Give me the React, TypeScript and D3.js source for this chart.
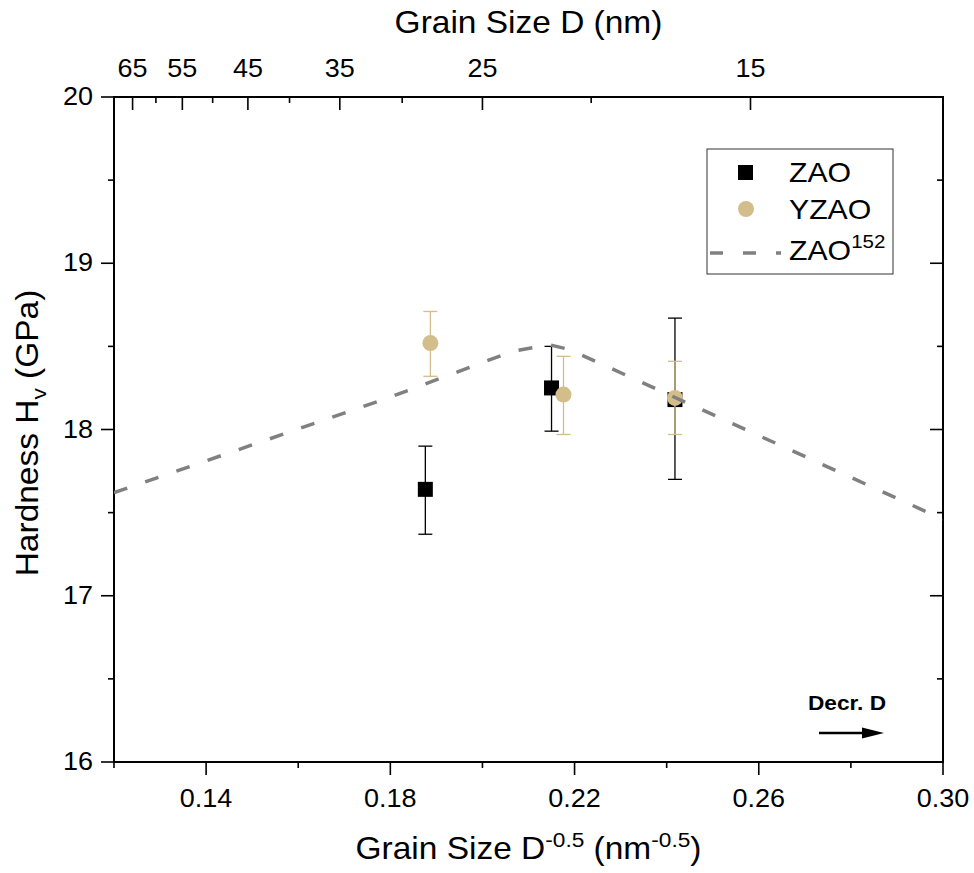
import React from "react";
import * as d3 from "d3";

const W = 974;
const H = 873;
const margin = { left: 114, right: 31, top: 97, bottom: 111 };

// ZAO (black squares) : x = D^-0.5, y = hardness, err = [low, high]
const zaoX = [0.1876, 0.215, 0.2418];
const zaoY = [17.64, 18.25, 18.18];
const zaoLow = [17.37, 17.99, 17.7];
const zaoHigh = [17.9, 18.5, 18.67];

// YZAO (tan circles)
const yzaoX = [0.1887, 0.2176, 0.2418];
const yzaoY = [18.52, 18.21, 18.19];
const yzaoLow = [18.32, 17.97, 17.97];
const yzaoHigh = [18.71, 18.44, 18.41];

// ZAO^152 reference curve
const refX = [0.12, 0.1795, 0.2065, 0.2145, 0.219, 0.3];
const refY = [17.62, 18.19, 18.47, 18.51, 18.48, 17.46];

const bottomMajor = [0.14, 0.18, 0.22, 0.26, 0.3];
const bottomMinor = [0.12, 0.16, 0.2, 0.24, 0.28];
const leftMajor = [16, 17, 18, 19, 20];
const leftMinor = [16.5, 17.5, 18.5, 19.5];
const topMajor = [65, 55, 45, 35, 25, 15];
const topMinor = [60, 50, 40, 30, 20];

const tan = "#D3BD8A";
const font = "'Liberation Sans', Arial, sans-serif";
const SX = 1.08; // the original text is a touch wider than Arial

// text slightly stretched horizontally, anchored at (x, y)
function T(props: {
  x: number;
  y: number;
  size: number;
  anchor?: string;
  rotate?: number;
  bold?: boolean;
  children: React.ReactNode;
}) {
  const { x, y, size, anchor, rotate, bold, children } = props;
  return (
    <text
      transform={`translate(${x},${y})${rotate ? ` rotate(${rotate})` : ""} scale(${SX},1)`}
      fontSize={size}
      textAnchor={anchor || "start"}
      fontWeight={bold ? "bold" : "normal"}
    >
      {children}
    </text>
  );
}

export default function App() {
  const x = d3
    .scaleLinear()
    .domain([0.12, 0.3])
    .range([margin.left, W - margin.right]);
  const y = d3
    .scaleLinear()
    .domain([16, 20])
    .range([H - margin.bottom, margin.top]);

  const x0 = x.range()[0];
  const x1 = x.range()[1];
  const y0 = y.range()[0];
  const y1 = y.range()[1];

  const topX = (d: number) => x(1 / Math.sqrt(d));

  const line = d3
    .line<number>()
    .x((_, i) => x(refX[i]))
    .y((d) => y(d));

  const cap = 7;
  const major = 13;
  const minor = 6;

  return (
    <svg
      width={W}
      height={H}
      style={{ position: "absolute", left: 0, top: 0, background: "#fff" }}
      fontFamily={font}
    >
      <defs>
        <clipPath id="plot">
          <rect x={x0} y={y1} width={x1 - x0} height={y0 - y1} />
        </clipPath>
      </defs>

      {/* bottom axis ticks (outward) */}
      {bottomMajor.map((d) => (
        <g key={"bm" + d}>
          <line x1={x(d)} x2={x(d)} y1={y0} y2={y0 + major} stroke="#000" strokeWidth={1.6} />
          <T x={x(d)} y={807} size={25} anchor="middle">
            {d.toFixed(2)}
          </T>
        </g>
      ))}
      {bottomMinor.map((d) => (
        <line key={"bn" + d} x1={x(d)} x2={x(d)} y1={y0} y2={y0 + minor} stroke="#000" strokeWidth={1.6} />
      ))}

      {/* top axis ticks (inward) */}
      {topMajor.map((d) => (
        <g key={"tm" + d}>
          <line x1={topX(d)} x2={topX(d)} y1={y1} y2={y1 + major} stroke="#000" strokeWidth={1.6} />
          <T x={topX(d)} y={77} size={25} anchor="middle">
            {d}
          </T>
        </g>
      ))}
      {topMinor.map((d) => (
        <line key={"tn" + d} x1={topX(d)} x2={topX(d)} y1={y1} y2={y1 + minor} stroke="#000" strokeWidth={1.6} />
      ))}

      {/* left axis (outward) and right axis (inward) */}
      {leftMajor.map((d) => (
        <g key={"lm" + d}>
          <line x1={x0 - major} x2={x0} y1={y(d)} y2={y(d)} stroke="#000" strokeWidth={1.6} />
          <line x1={x1 - major} x2={x1} y1={y(d)} y2={y(d)} stroke="#000" strokeWidth={1.6} />
          <T x={x0 - 21} y={y(d) + 8} size={25} anchor="end">
            {d}
          </T>
        </g>
      ))}
      {leftMinor.map((d) => (
        <g key={"ln" + d}>
          <line x1={x0 - minor} x2={x0} y1={y(d)} y2={y(d)} stroke="#000" strokeWidth={1.6} />
          <line x1={x1 - minor} x2={x1} y1={y(d)} y2={y(d)} stroke="#000" strokeWidth={1.6} />
        </g>
      ))}

      {/* frame */}
      <rect x={x0} y={y1} width={x1 - x0} height={y0 - y1} fill="none" stroke="#000" strokeWidth={2} />

      {/* ZAO error bars + squares */}
      {zaoX.map((d, i) => (
        <g key={"z" + i}>
          <line x1={x(d)} x2={x(d)} y1={y(zaoLow[i])} y2={y(zaoHigh[i])} stroke="#000" strokeWidth={1.3} />
          <line x1={x(d) - cap} x2={x(d) + cap} y1={y(zaoLow[i])} y2={y(zaoLow[i])} stroke="#000" strokeWidth={1.3} />
          <line x1={x(d) - cap} x2={x(d) + cap} y1={y(zaoHigh[i])} y2={y(zaoHigh[i])} stroke="#000" strokeWidth={1.3} />
          <rect x={x(d) - 7.5} y={y(zaoY[i]) - 7.5} width={15} height={15} fill="#000" />
        </g>
      ))}

      {/* YZAO error bars + circles */}
      {yzaoX.map((d, i) => (
        <g key={"y" + i}>
          <line x1={x(d)} x2={x(d)} y1={y(yzaoLow[i])} y2={y(yzaoHigh[i])} stroke={tan} strokeWidth={1.3} />
          <line x1={x(d) - cap} x2={x(d) + cap} y1={y(yzaoLow[i])} y2={y(yzaoLow[i])} stroke={tan} strokeWidth={1.3} />
          <line x1={x(d) - cap} x2={x(d) + cap} y1={y(yzaoHigh[i])} y2={y(yzaoHigh[i])} stroke={tan} strokeWidth={1.3} />
          <circle cx={x(d)} cy={y(yzaoY[i])} r={8} fill={tan} />
        </g>
      ))}

      {/* reference dashed curve */}
      <path
        d={line(refY) || ""}
        fill="none"
        stroke="#808080"
        strokeWidth={3.5}
        strokeDasharray="14 19"
        clipPath="url(#plot)"
      />

      {/* legend */}
      <rect x={707} y={149} width={186} height={125} fill="#fff" stroke="#333" strokeWidth={1} />
      <rect x={738} y={165} width={15} height={15} fill="#000" />
      <T x={789} y={182} size={28}>ZAO</T>
      <circle cx={746} cy={209} r={8} fill={tan} />
      <T x={789} y={219} size={28}>YZAO</T>
      <line x1={710} x2={781} y1={253} y2={253} stroke="#808080" strokeWidth={3.5} strokeDasharray="13 20" />
      <T x={789} y={260} size={28}>
        ZAO<tspan dy={-12} fontSize={19}>152</tspan>
      </T>

      {/* Decr. D annotation */}
      <T x={847} y={710} size={21} anchor="middle" bold>
        Decr. D
      </T>
      <line x1={819} x2={866} y1={733} y2={733} stroke="#000" strokeWidth={2.5} />
      <path d="M862,727.5 L884,733 L862,738.5 Z" fill="#000" />

      {/* axis titles */}
      <T x={(x0 + x1) / 2} y={33} size={31} anchor="middle">
        Grain Size D (nm)
      </T>
      <T x={(x0 + x1) / 2} y={859} size={31} anchor="middle">
        Grain Size D<tspan dy={-12} fontSize={21}>-0.5</tspan>
        <tspan dy={12}> (nm</tspan>
        <tspan dy={-12} fontSize={21}>-0.5</tspan>
        <tspan dy={12}>)</tspan>
      </T>
      <T x={38} y={433} size={31} anchor="middle" rotate={-90}>
        Hardness H<tspan dy={8} fontSize={21}>v</tspan>
        <tspan dy={-8}> (GPa)</tspan>
      </T>
    </svg>
  );
}
